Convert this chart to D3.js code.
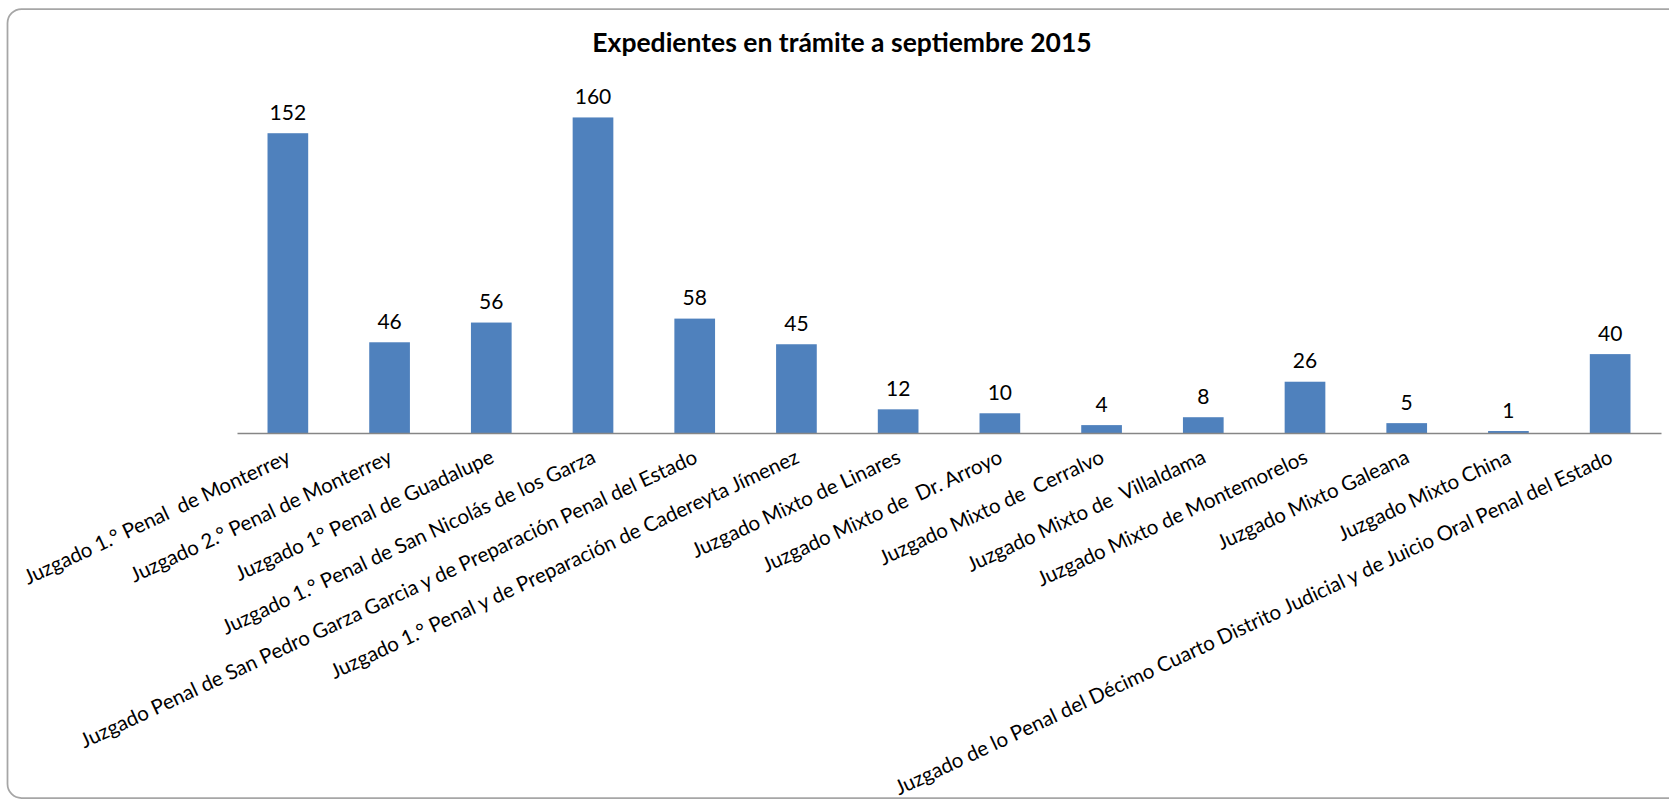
<!DOCTYPE html>
<html>
<head>
<meta charset="utf-8">
<script src="https://cdn.jsdelivr.net/npm/d3@7"></script>
<style>
  body { margin: 0; background: #fff; }
  svg { display: block; font-family: Lato, "Open Sans", sans-serif; }
  .cat { white-space: pre; }
</style>
</head>
<body>
<div id="chart"></div>
<script>

const title = "Expedientes en trámite a septiembre 2015";

const categories = [
  "Juzgado 1.° Penal  de Monterrey",
  "Juzgado 2.° Penal de Monterrey",
  "Juzgado 1° Penal de Guadalupe",
  "Juzgado 1.° Penal de San Nicolás de los Garza",
  "Juzgado Penal de San Pedro Garza Garcia y de Preparación Penal del Estado",
  "Juzgado 1.° Penal y de Preparación de Cadereyta Jímenez",
  "Juzgado Mixto de Linares",
  "Juzgado Mixto de  Dr. Arroyo",
  "Juzgado Mixto de  Cerralvo",
  "Juzgado Mixto de  Villaldama",
  "Juzgado Mixto de Montemorelos",
  "Juzgado Mixto Galeana",
  "Juzgado Mixto China",
  "Juzgado de lo Penal del Décimo Cuarto Distrito Judicial y de Juicio Oral Penal del Estado"
];

const values = [152, 46, 56, 160, 58, 45, 12, 10, 4, 8, 26, 5, 1, 40];

const yMax = 180;

// Layout
// ======

const W = 1669, H = 802;
const BASE_Y = 433, TOP_Y = 78;
const LEFT_X = 237, RIGHT_X = 1661;
const BAR_COLOR = "#4f81bd";

const svg = d3.select('#chart').append('svg')
  .attr('width', W)
  .attr('height', H);

// chart frame (right edge runs off the picture)
svg.append('rect')
  .attr('x', 7.5)
  .attr('y', 9)
  .attr('width', 1680)
  .attr('height', 789)
  .attr('rx', 14)
  .attr('fill', '#fff')
  .attr('stroke', '#a6a6a6')
  .attr('stroke-width', 1.75);

const x = d3.scaleBand()
  .domain(categories)
  .range([LEFT_X, RIGHT_X])
  .paddingInner(0.6)
  .paddingOuter(0.3);

const y = d3.scaleLinear()
  .domain([0, yMax])
  .range([BASE_Y, TOP_Y]);

svg.append('text')
  .attr('x', 842)
  .attr('y', 52)
  .attr('text-anchor', 'middle')
  .attr('font-weight', 'bold')
  .attr('font-size', 26.5)
  .attr('fill', '#000')
  .text(title);

const data = categories.map((c, i) => ({ cat: c, value: values[i] }));

svg.append('g')
  .selectAll('rect').data(data)
  .enter()
  .append('rect')
    .attr('fill', BAR_COLOR)
    .attr('x', d => x(d.cat))
    .attr('y', d => y(d.value))
    .attr('width', x.bandwidth())
    .attr('height', d => y(0) - y(d.value));

svg.append('g')
  .selectAll('text').data(data)
  .enter()
  .append('text')
    .attr('x', d => x(d.cat) + x.bandwidth() / 2)
    .attr('y', d => y(d.value) - 13.5)
    .attr('text-anchor', 'middle')
    .attr('font-size', 21)
    .attr('fill', '#000')
    .text(d => d.value);

// category axis
const xAxis = svg.append('g')
  .attr('transform', `translate(0,${BASE_Y})`)
  .call(d3.axisBottom(x).tickSize(0).tickPadding(0));

xAxis.select('.domain')
  .attr('stroke', '#868686')
  .attr('stroke-width', 1.5);

xAxis.selectAll('.tick text')
  .attr('class', 'cat')
  .attr('font-family', 'Lato, "Open Sans", sans-serif')
  .attr('font-size', 20.5)
  .attr('fill', '#000')
  .attr('text-anchor', 'end')
  .attr('dy', 0)
  .attr('y', 0)
  .attr('transform', 'translate(4,29) rotate(-25)');

</script>
</body>
</html>
